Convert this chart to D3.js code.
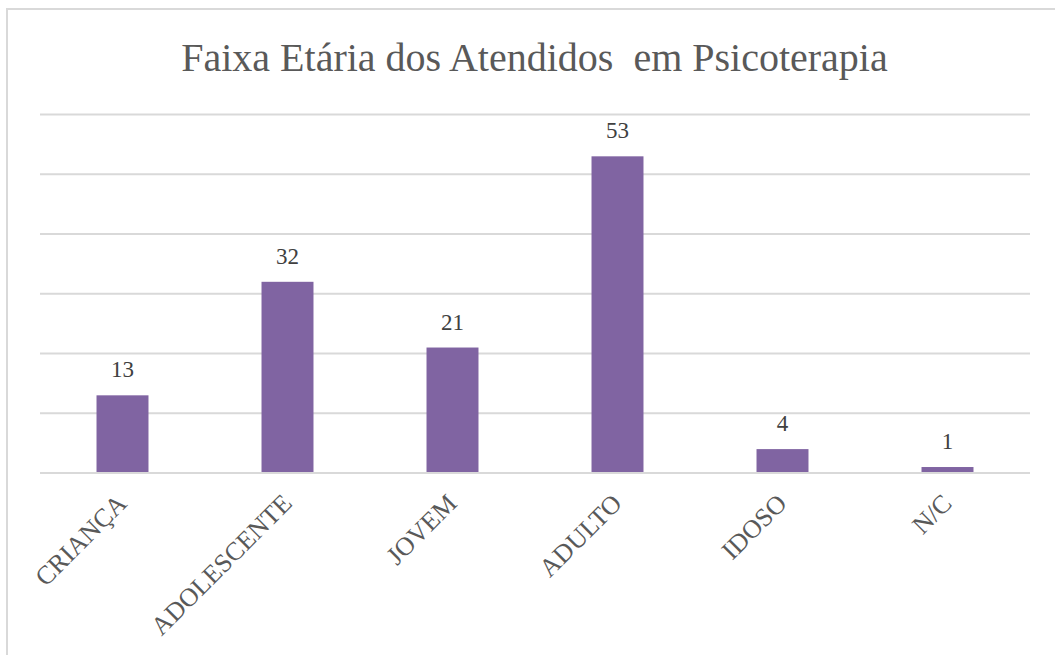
<!DOCTYPE html>
<html>
<head>
<meta charset="utf-8">
<script src="https://cdn.jsdelivr.net/npm/d3@7"></script>
<style>
  body { margin: 0; background: #fff; }
</style>
</head>
<body>
<div id="app"></div>
<script>
var categories = ["CRIANÇA", "ADOLESCENTE", "JOVEM", "ADULTO", "IDOSO", "N/C"];
var values = [13, 32, 21, 53, 4, 1];
var yTicks = [0, 10, 20, 30, 40, 50, 60];
var title = "Faixa Etária dos Atendidos  em Psicoterapia";

var W = 1055;
var H = 655;
var font = "Liberation Serif";

var plotLeft = 40;
var plotRight = 1030;
var plotTop = 114.5;
var plotBottom = 473;

var svg = d3.select("#app")
    .append("svg")
    .attr("width", W)
    .attr("height", H);

// chart border (runs off the picture on the right and bottom)
svg.append("rect")
    .attr("x", 7)
    .attr("y", 9)
    .attr("width", W + 20)
    .attr("height", H + 20)
    .style("fill", "#fff")
    .style("stroke", "#d9d9d9")
    .style("stroke-width", 2);

// TITLE
svg.append("text")
    .attr("x", 534.5)
    .attr("y", 71)
    .attr("text-anchor", "middle")
    .style("font-family", font)
    .style("white-space", "pre")
    .style("font-size", "40px")
    .style("fill", "#595959")
    .text(title);

var x = d3.scaleBand()
    .domain(categories)
    .range([plotLeft, plotRight])
    .paddingInner(0.685)
    .paddingOuter(0.3425);

var y = d3.scaleLinear()
    .domain([0, 60])
    .range([plotBottom, plotTop]);

// GRIDLINES
svg.append("g")
    .selectAll("line")
    .data(yTicks)
    .enter()
    .append("line")
    .attr("x1", plotLeft)
    .attr("x2", plotRight)
    .attr("y1", function (d) { return y(d); })
    .attr("y2", function (d) { return y(d); })
    .style("stroke", "#d9d9d9")
    .style("stroke-width", 2);

// BARS
svg.append("g")
    .selectAll("rect")
    .data(values)
    .enter()
    .append("rect")
    .attr("x", function (d, i) { return x(categories[i]); })
    .attr("y", function (d) { return y(d); })
    .attr("width", x.bandwidth())
    .attr("height", function (d) { return plotBottom - y(d) - 1; })
    .style("fill", "#8064a2");

// DATA LABELS
svg.append("g")
    .selectAll("text")
    .data(values)
    .enter()
    .append("text")
    .attr("x", function (d, i) { return x(categories[i]) + x.bandwidth() / 2; })
    .attr("y", function (d) { return y(d) - 18; })
    .attr("text-anchor", "middle")
    .style("font-family", font)
    .style("font-size", "23px")
    .style("fill", "#404040")
    .text(function (d) { return d; });

// CATEGORY LABELS
svg.append("g")
    .selectAll("text")
    .data(categories)
    .enter()
    .append("text")
    .attr("text-anchor", "end")
    .attr("transform", function (d) {
        var cx = x(d) + x.bandwidth() / 2;
        return "translate(" + (cx - 7) + "," + (plotBottom + 19) + ") rotate(-45)";
    })
    .attr("dy", "0.7em")
    .style("font-family", font)
    .style("font-size", "26px")
    .style("fill", "#595959")
    .text(function (d) { return d; });
</script>
</body>
</html>
